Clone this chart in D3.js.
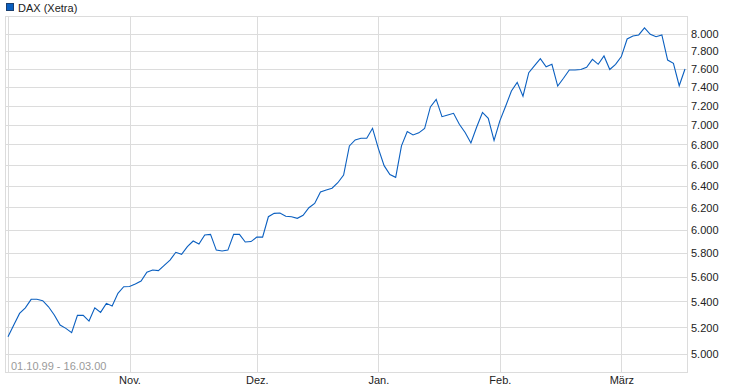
<!DOCTYPE html>
<html>
<head>
<meta charset="utf-8">
<script src="https://cdn.jsdelivr.net/npm/d3@7"></script>
<style>
  html, body { margin: 0; padding: 0; background: #fff; }
  text { font-family: "Liberation Sans", Arial, sans-serif; }
</style>
</head>
<body>
<svg id="chart" width="730" height="390"></svg>
<script>
// ---- data ----
const seriesName = "DAX (Xetra)";
const rangeLabel = "01.10.99 - 16.03.00";
// daily closes, 01.10.1999 .. 16.03.2000 (trading days)
const octValues = [5123, 5212, 5302, 5346, 5413, 5413, 5402, 5354, 5290, 5212, 5187, 5154, 5287, 5287, 5243, 5346, 5310, 5381, 5360, 5461, 5514];
const novValues = [5516, 5536, 5560, 5632, 5651, 5646, 5690, 5734, 5800, 5783, 5848, 5897, 5871, 5949, 5955, 5819, 5811, 5819, 5955, 5955, 5888, 5892];
const decValues = [5931, 5931, 6111, 6141, 6145, 6115, 6111, 6097, 6124, 6192, 6232, 6337, 6356, 6372, 6424, 6497, 6780, 6840, 6857, 6857, 6958];
const janValues = [6757, 6587, 6502, 6475, 6781, 6925, 6891, 6912, 6956, 7180, 7261, 7078, 7095, 7113, 7000, 6915, 6810, 6972, 7122, 7061, 6836];
const febValues = [7035, 7188, 7350, 7444, 7295, 7551, 7629, 7708, 7617, 7644, 7404, 7489, 7580, 7580, 7586, 7611, 7700, 7644, 7738, 7586, 7644];
const marValues = [7731, 7934, 7969, 7981, 8065, 7989, 7960, 7981, 7692, 7655, 7407, 7592];
const monthLabels = ["Nov.", "Dez.", "Jan.", "Feb.", "März"];
const yTicks = [5000, 5200, 5400, 5600, 5800, 6000, 6200, 6400, 6600, 6800, 7000, 7200, 7400, 7600, 7800, 8000];

// ---- build ----
const months = [octValues, novValues, decValues, janValues, febValues, marValues];
const values = months.flat();
const monthStarts = [];
{ let acc = 0; months.forEach(m => { monthStarts.push(acc); acc += m.length; }); }

const svg = d3.select("#chart");
const plot = { left: 5, right: 687, top: 16, bottom: 372 };
const gridColor = "#dcdcdc";

const x = d3.scaleLinear().domain([0, values.length - 1]).range([8, 685]);
const y = d3.scaleLog().domain([4865, 8206]).range([plot.bottom, plot.top]);

// frame
svg.append("rect")
  .attr("x", plot.left + 0.5).attr("y", plot.top + 0.5)
  .attr("width", plot.right - plot.left).attr("height", plot.bottom - plot.top)
  .attr("fill", "none").attr("stroke", gridColor).attr("shape-rendering", "crispEdges");

// horizontal grid + y axis labels
const yAxis = d3.axisRight(y)
  .tickValues(yTicks)
  .tickSize(-(plot.right - plot.left))
  .tickPadding(4)
  .tickFormat(d => d3.format(",")(d).replace(",", "."));
const gy = svg.append("g").attr("transform", `translate(${plot.right},0)`).call(yAxis);
gy.select(".domain").remove();
gy.selectAll(".tick line").attr("stroke", gridColor).attr("shape-rendering", "crispEdges")
  .attr("transform", "translate(0,0.5)");
gy.selectAll(".tick text").attr("fill", "#222").attr("font-size", 11)
  .attr("font-family", "'Liberation Sans', Arial, sans-serif").attr("dy", "0.4em");

// vertical grid (month starts) + x labels
const xAxis = d3.axisBottom(x)
  .tickValues(monthStarts)
  .tickSize(plot.bottom - plot.top + 1)
  .tickPadding(2)
  .tickFormat((d, i) => i === 0 ? "" : monthLabels[i - 1]);
const gx = svg.append("g").attr("transform", `translate(0,${plot.top})`).call(xAxis);
gx.select(".domain").remove();
gx.selectAll(".tick line").attr("stroke", gridColor).attr("shape-rendering", "crispEdges");
gx.selectAll(".tick text").attr("fill", "#222").attr("font-size", 11)
  .attr("font-family", "'Liberation Sans', Arial, sans-serif").attr("dy", "0.85em");

// range label
svg.append("text")
  .attr("x", 11).attr("y", 370)
  .attr("font-size", 11).attr("fill", "#9a9a9a")
  .text(rangeLabel);

// line
const line = d3.line().x((d, i) => x(i)).y(d => y(d));
svg.append("path")
  .datum(values)
  .attr("d", line)
  .attr("fill", "none")
  .attr("stroke", "#0a5fc0")
  .attr("stroke-width", 1.1);

// legend
svg.append("rect")
  .attr("x", 6.5).attr("y", 3.5).attr("width", 7).attr("height", 7)
  .attr("fill", "#0a5fc0").attr("stroke", "#1a3f6f");
svg.append("text")
  .attr("x", 18).attr("y", 12)
  .attr("font-size", 11).attr("fill", "#222")
  .text(seriesName);
</script>
</body>
</html>
